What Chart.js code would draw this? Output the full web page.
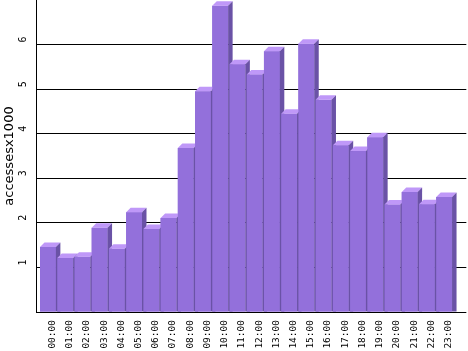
<!DOCTYPE html>
<html>
<head>
<meta charset="utf-8">
<script src="https://cdn.jsdelivr.net/npm/chart.js@4"></script>
<style>
html,body{margin:0;padding:0;background:#fff;}
#wrap{width:468px;height:351px;position:relative;}
</style>
</head>
<body>
<div id="wrap"><canvas id="c" width="468" height="351"></canvas></div>
<script>
const hours = ["00:00","01:00","02:00","03:00","04:00","05:00","06:00","07:00","08:00","09:00","10:00","11:00",
               "12:00","13:00","14:00","15:00","16:00","17:00","18:00","19:00","20:00","21:00","22:00","23:00"];
const accesses = [1.46,1.21,1.24,1.89,1.42,2.24,1.86,2.11,3.68,4.95,6.87,5.56,
                  5.33,5.85,4.45,6.02,4.76,3.74,3.61,3.92,2.41,2.69,2.42,2.58];
const yTickLabels = ["1","2","3","4","5","6"];
const yTitle = "accessesx1000";

const FRONT = "#9370DB", TOP = "#BF98F8", SIDE = "#6A52A6";
const DEPTH = 4.5;

const bars3d = {
  id: "bars3d",
  afterDatasetsDraw(chart) {
    const ctx = chart.ctx;
    const meta = chart.getDatasetMeta(0);
    ctx.save();
    meta.data.forEach(el => {
      const p = el.getProps(["x","y","width","base"], true);
      const l = p.x - p.width/2, r = p.x + p.width/2, t = p.y, b = p.base;
      ctx.fillStyle = FRONT;
      ctx.fillRect(l, t, r - l, b - t);
      ctx.fillStyle = TOP;
      ctx.beginPath();
      ctx.moveTo(l, t); ctx.lineTo(l + DEPTH, t - DEPTH); ctx.lineTo(r + DEPTH, t - DEPTH); ctx.lineTo(r, t);
      ctx.closePath(); ctx.fill();
      ctx.fillStyle = SIDE;
      ctx.beginPath();
      ctx.moveTo(r, t); ctx.lineTo(r + DEPTH, t - DEPTH); ctx.lineTo(r + DEPTH, b); ctx.lineTo(r, b);
      ctx.closePath(); ctx.fill();
    });
    ctx.restore();
  },
  afterDraw(chart) {
    const ctx = chart.ctx;
    const ys = chart.scales.y;
    ctx.save();
    ctx.fillStyle = "#000";
    ctx.textAlign = "center";
    ctx.textBaseline = "middle";
    ctx.font = "10px 'DejaVu Sans Mono'";
    yTickLabels.forEach(lbl => {
      const py = ys.getPixelForValue(Number(lbl)) - 5;
      ctx.save(); ctx.translate(23, py); ctx.rotate(-Math.PI/2); ctx.fillText(lbl, 0, 0); ctx.restore();
    });
    ctx.font = "13px 'DejaVu Sans'";
    ctx.save(); ctx.translate(10, (ys.top + ys.bottom)/2); ctx.rotate(-Math.PI/2); ctx.fillText(yTitle, 0, 0); ctx.restore();
    ctx.restore();
  }
};

new Chart(document.getElementById("c"), {
  type: "bar",
  data: {
    datasets: [{
      data: accesses.map((v, i) => ({x: i, y: v})),
      backgroundColor: FRONT,
      borderWidth: 0,
      categoryPercentage: 1.0,
      barPercentage: 0.92
    }]
  },
  options: {
    responsive: false,
    animation: false,
    devicePixelRatio: 1,
    layout: {padding: {left: 36, top: 0, right: 0, bottom: 0}},
    plugins: {legend: {display: false}, tooltip: {enabled: false}},
    scales: {
      x: {
        type: "linear",
        offset: false,
        min: -0.694,
        max: 24.29,
        afterBuildTicks: s => { s.ticks = hours.map((h, i) => ({value: i + 0.26})); },
        afterFit: s => { s.height = 39; },
        grid: {display: false, drawTicks: false},
        border: {display: false},
        ticks: {
          autoSkip: false,
          minRotation: 90, maxRotation: 90,
          padding: 8,
          color: "#000",
          font: {family: "'DejaVu Sans Mono'", size: 9.5},
          callback: v => hours[Math.round(v)]
        }
      },
      y: {
        min: 0, max: 7,
        afterFit: s => { s.width = 0; },
        ticks: {display: false, stepSize: 1},
        grid: {
          drawTicks: false,
          color: c => (c.tick && c.tick.value === 7) ? "rgba(0,0,0,0)" : "#000",
          lineWidth: 1
        },
        border: {display: true, color: "#000", width: 1}
      }
    }
  },
  plugins: [bars3d]
});
</script>
</body>
</html>
